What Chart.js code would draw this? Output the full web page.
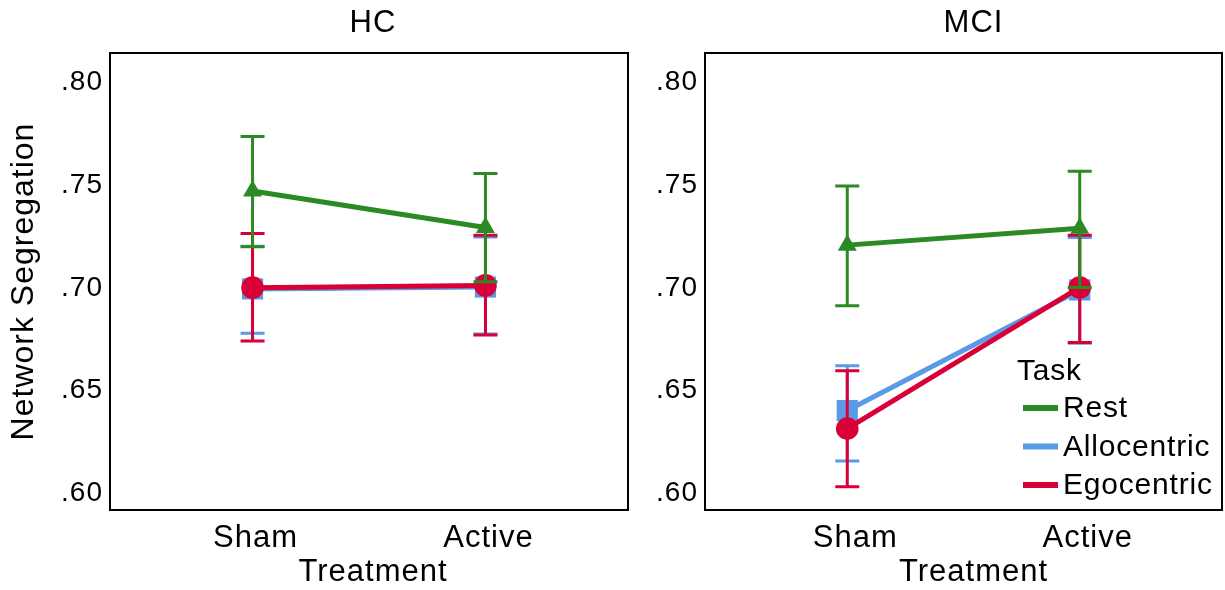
<!DOCTYPE html>
<html>
<head>
<meta charset="utf-8">
<title>Network Segregation</title>
<script src="https://cdn.jsdelivr.net/npm/chart.js@4/dist/chart.umd.min.js"></script>
<style>
  html, body { margin: 0; padding: 0; background: #fff; }
  #wrap { position: relative; width: 1225px; height: 590px; }
  #wrap canvas { position: absolute; top: 0; }
  #chart-hc { left: 0; }
  #chart-mci { left: 640px; }
</style>
</head>
<body>
<div id="wrap">
  <canvas id="chart-hc" width="640" height="590"></canvas>
  <canvas id="chart-mci" width="585" height="590"></canvas>
</div>
<script>
"use strict";

const treatments = ["Sham", "Active"];
const tasks = ["Rest", "Allocentric", "Egocentric"];
const yTicks = [0.60, 0.65, 0.70, 0.75, 0.80];

// HC group: means and error bar ends
const hcRest = [0.7471, 0.7294];
const hcRestLo = [0.7200, 0.7030];
const hcRestHi = [0.7737, 0.7556];
const hcAllo = [0.6995, 0.7004];
const hcAlloLo = [0.6779, 0.6775];
const hcAlloHi = [0.7203, 0.7248];
const hcEgo = [0.7001, 0.7012];
const hcEgoLo = [0.6742, 0.6771];
const hcEgoHi = [0.7265, 0.7256];

// MCI group
const mciRest = [0.7208, 0.7290];
const mciRestLo = [0.6913, 0.7002];
const mciRestHi = [0.7496, 0.7567];
const mciAllo = [0.6403, 0.6990];
const mciAlloLo = [0.6157, 0.6731];
const mciAlloHi = [0.6621, 0.7245];
const mciEgo = [0.6315, 0.7002];
const mciEgoLo = [0.6032, 0.6734];
const mciEgoHi = [0.6597, 0.7256];

const colors = { Rest: "#2b8a24", Allocentric: "#5b9be6", Egocentric: "#d80036" };
const styles = { Rest: ["triangle", 11], Allocentric: ["rect", 15], Egocentric: ["circle", 11.3] };
const order = { Rest: 0, Egocentric: 1, Allocentric: 2 };
const FONT = "'Liberation Sans', Arial, sans-serif";

const makeSet = (task, means, lo, hi) => {
  const c = colors[task];
  return {
    label: task,
    data: means.map((v, i) => ({ x: i + 1, y: v })),
    errLo: lo,
    errHi: hi,
    borderColor: c,
    backgroundColor: c,
    borderWidth: 5,
    pointStyle: styles[task][0],
    pointRadius: styles[task][1],
    pointBorderWidth: 0,
    order: order[task],
  };
};

// error bars, frame, panel title, x title, legend
const extras = {
  id: "extras",
  beforeDraw(chart) {
    chart.ctx.letterSpacing = "1px";
  },
  afterDatasetDraw(chart, args) {
    const ds = chart.data.datasets[args.index];
    const { ctx, scales: { x, y } } = chart;
    ctx.save();
    ctx.strokeStyle = ds.borderColor;
    ctx.lineWidth = 3;
    ds.data.forEach((p, i) => {
      const px = x.getPixelForValue(p.x);
      const top = y.getPixelForValue(ds.errHi[i]);
      const bot = y.getPixelForValue(ds.errLo[i]);
      ctx.beginPath();
      ctx.moveTo(px, top); ctx.lineTo(px, bot);
      ctx.moveTo(px - 12, top); ctx.lineTo(px + 12, top);
      ctx.moveTo(px - 12, bot); ctx.lineTo(px + 12, bot);
      ctx.stroke();
    });
    ctx.restore();
  },
  afterDraw(chart, args, opts) {
    const { ctx, chartArea: a } = chart;
    const cx = (a.left + a.right) / 2 + opts.textDx;
    ctx.save();
    ctx.strokeStyle = "#000";
    ctx.lineWidth = 2;
    ctx.strokeRect(a.left, a.top, a.right - a.left, a.bottom - a.top);
    ctx.fillStyle = "#000";
    ctx.letterSpacing = "1px";
    ctx.textAlign = "center";
    ctx.textBaseline = "middle";
    ctx.font = `31px ${FONT}`;
    ctx.fillText(opts.title, cx, 23);
    ctx.fillText("Treatment", cx, 572);
    if (opts.legend) {
      ctx.textAlign = "left";
      ctx.font = `30px ${FONT}`;
      ctx.letterSpacing = "0.8px";
      ctx.fillText("Task", a.right - 205, a.bottom - 138);
      tasks.forEach((t, i) => {
        const yy = a.bottom - 102 + i * 38.5;
        ctx.strokeStyle = colors[t];
        ctx.lineWidth = 6;
        ctx.beginPath();
        ctx.moveTo(a.right - 199, yy);
        ctx.lineTo(a.right - 164, yy);
        ctx.stroke();
        ctx.fillText(t, a.right - 159, yy + 1);
      });
    }
    ctx.restore();
  },
};

const makeChart = (canvasId, title, sets, opts) => new Chart(document.getElementById(canvasId), {
  type: "line",
  data: { datasets: sets },
  options: {
    responsive: false,
    animation: false,
    events: [],
    layout: { autoPadding: false, padding: { top: 53, right: opts.padRight, left: 0, bottom: 0 } },
    plugins: {
      legend: { display: false },
      tooltip: { enabled: false },
      extras: { title, textDx: opts.textDx, legend: opts.legend },
    },
    scales: {
      x: {
        type: "linear",
        min: 0.388,
        max: 2.612,
        grid: { display: false, drawTicks: false },
        border: { display: false },
        afterBuildTicks: (s) => { s.ticks = treatments.map((_, i) => ({ value: i + 1 })); },
        afterFit: (s) => { s.height = 80; s.paddingLeft = 0; s.paddingRight = 0; },
        ticks: {
          color: "#000",
          padding: 10,
          labelOffset: opts.labelDx,
          font: { family: FONT, size: 31 },
          callback: (v) => treatments[v - 1] || "",
        },
      },
      y: {
        min: 0.5919,
        max: 0.8143,
        grid: { display: false, drawTicks: false },
        border: { display: false },
        afterBuildTicks: (s) => { s.ticks = yTicks.map((v) => ({ value: v })); },
        afterFit: (s) => { s.width = opts.yWidth; },
        ticks: {
          color: "#000",
          padding: 7,
          font: { family: FONT, size: 28 },
          callback: (v) => v.toFixed(2).replace(/^0/, ""),
        },
        title: {
          display: opts.yTitle,
          text: "Network Segregation",
          color: "#000",
          padding: { top: 5, bottom: 0 },
          font: { family: FONT, size: 32 },
        },
      },
    },
  },
  plugins: [extras],
});

makeChart("chart-hc", "HC", [
  makeSet("Rest", hcRest, hcRestLo, hcRestHi),
  makeSet("Allocentric", hcAllo, hcAlloLo, hcAlloHi),
  makeSet("Egocentric", hcEgo, hcEgoLo, hcEgoHi),
], { padRight: 12, yWidth: 110, yTitle: true, legend: false, textDx: 4, labelDx: 3 });

makeChart("chart-mci", "MCI", [
  makeSet("Rest", mciRest, mciRestLo, mciRestHi),
  makeSet("Allocentric", mciAllo, mciAlloLo, mciAlloHi),
  makeSet("Egocentric", mciEgo, mciEgoLo, mciEgoHi),
], { padRight: 3, yWidth: 65, yTitle: false, legend: true, textDx: 10, labelDx: 8 });
</script>
</body>
</html>
